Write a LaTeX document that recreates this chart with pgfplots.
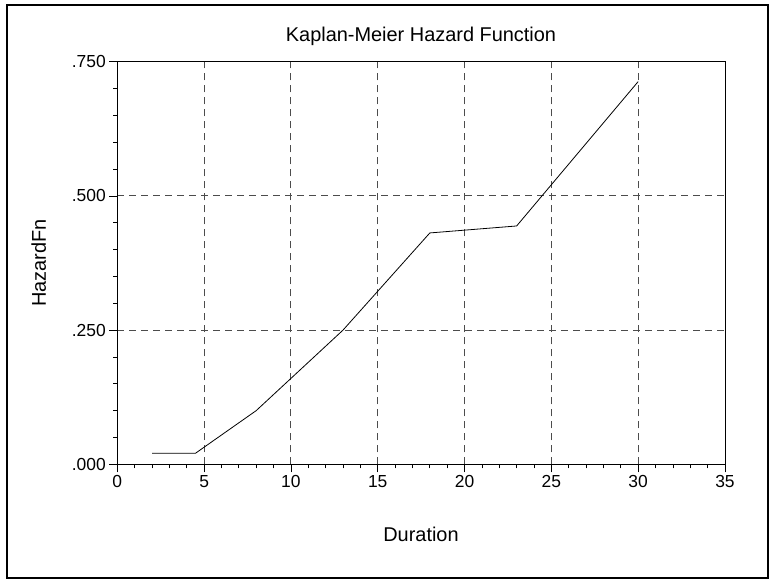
\documentclass[border=0pt]{standalone}
\usepackage{fontspec}
\setmainfont{Liberation Sans}
\usepackage{pgfplots}
\pgfplotsset{compat=1.18}

\begin{document}
\begin{tikzpicture}
% picture is 775x582 bp, axis origin sits at (117.3,464.3) px from the top left
\useasboundingbox (-117.3bp,-117.7bp) rectangle (657.7bp,464.3bp);
\draw[line width=2.5bp] (-110.3bp,-113.7bp) rectangle (650.7bp,459.3bp);
\begin{axis}[at={(0,0)},anchor=origin,
  scale only axis,width=607.7bp,height=402.6bp,
  xmin=0,xmax=35,ymin=0,ymax=.75,
  xtick={0,5,...,35},
  ytick={0,.25,.5,.75},yticklabels={.000,.250,.500,.750},
  minor x tick num=4,minor y tick num=4,
  xtick pos=bottom,ytick pos=left,tick align=outside,
  major tick length=8bp,minor tick length=4bp,
  every tick/.style={black,line width=.8bp},
  axis line style={line width=1bp},
  xmajorgrids,ymajorgrids,
  major grid style={dash pattern=on 7bp off 5bp,black!70,line width=.9bp},
  /pgf/number format/assume math mode=true,
  tick label style={font=\fontsize{17.5}{19}\selectfont},
  clip=false]
\addplot[black,line width=.8bp] coordinates {
  (2,0.0205) (4.5,0.0205) (8,0.100) (13,0.250) (18,0.431) (23,0.444) (30,0.713)};
\end{axis}
\node[font=\fontsize{20}{22}\selectfont,anchor=base] at (303.7bp,422.6bp) {Kaplan-Meier Hazard Function};
\node[font=\fontsize{20}{22}\selectfont,anchor=base] at (303.7bp,-76.7bp) {Duration};
\node[font=\fontsize{20}{22}\selectfont,anchor=base,rotate=90] at (-71.3bp,201.3bp) {HazardFn};
\end{tikzpicture}
\end{document}
